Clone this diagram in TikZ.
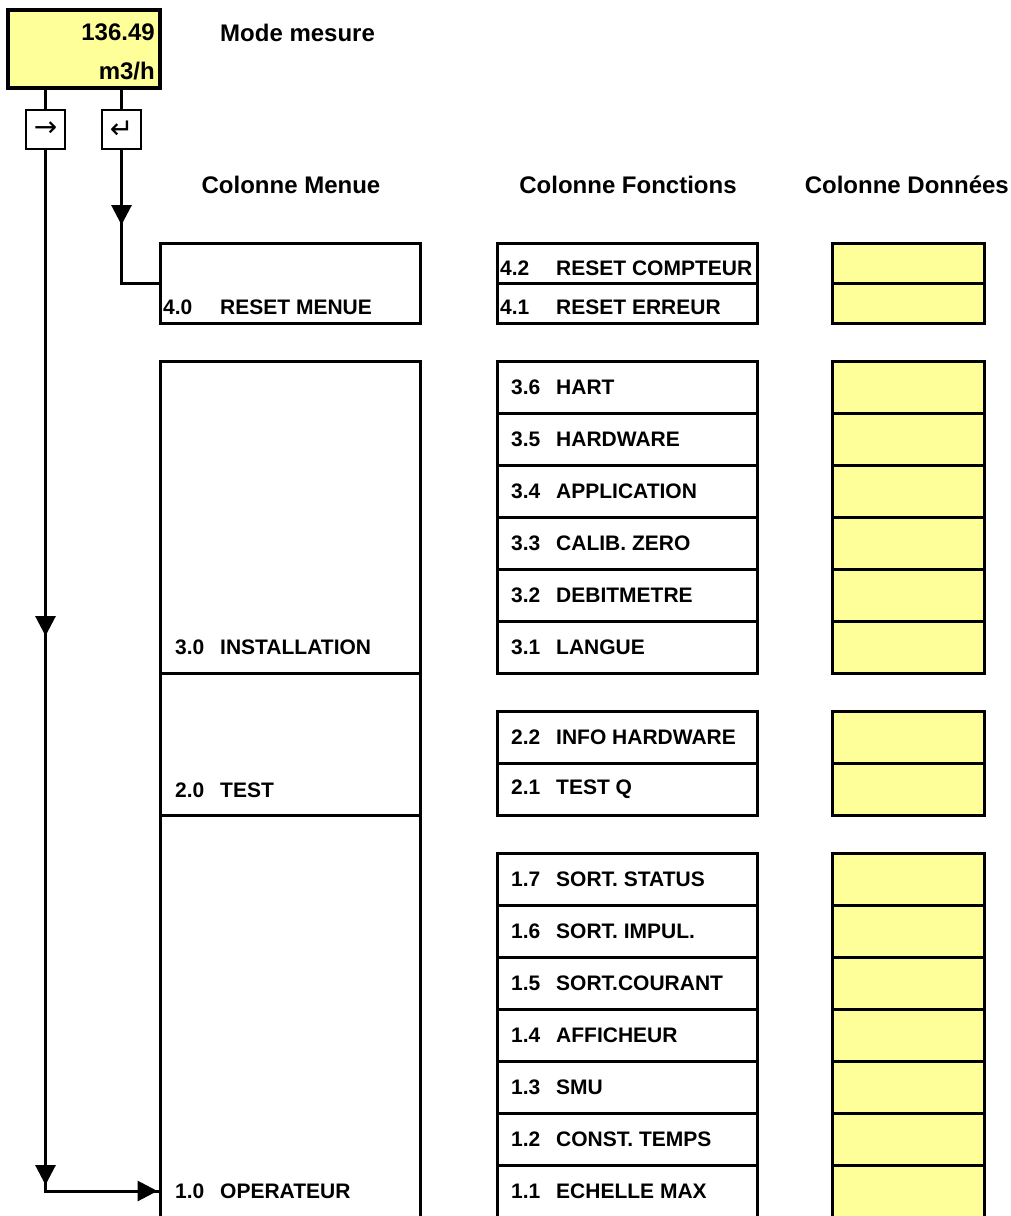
\documentclass[tikz,border=0pt]{standalone}
\usepackage{fontspec}
\setmainfont{Liberation Sans}
\newfontfamily\dejavu{DejaVu Sans}
\usetikzlibrary{arrows.meta,decorations.markings}
\definecolor{lyellow}{HTML}{FFFF99}
\begin{document}
\begin{tikzpicture}[x=1pt,y=-1pt,
  cell/.style={draw, line width=3pt, outer sep=0pt, inner sep=0pt, anchor=north west},
  data/.style={cell, fill=lyellow, minimum width=152pt, minimum height=52pt},
  func/.style={cell, minimum width=260pt, minimum height=52pt},
  lbl/.style={anchor=west, inner sep=0pt, font=\bfseries\fontsize{21}{25}\selectfont},
  head/.style={inner sep=0pt, font=\bfseries\fontsize{24}{28}\selectfont},
  keybox/.style={draw, line width=1.4pt, minimum width=39pt, minimum height=39pt, inner sep=0pt, outer sep=0pt, anchor=north west, font=\dejavu\fontsize{28}{30}\selectfont},
  conn/.style={line width=3pt},
  tri/.tip={Triangle[length=20pt,width=20pt]}
]
\useasboundingbox (0,0) rectangle (1010,1216);
\clip (0,0) rectangle (1010,1216);

% display
\node[draw, line width=3.8pt, fill=lyellow, minimum width=152pt, minimum height=78pt, anchor=north west, outer sep=0pt, inner sep=0pt] (disp) at (8,10) {};
\node[head, anchor=base east] (val) at (155,40) {136.49};
\node[head, anchor=base east] (unit) at (155,79) {m3/h};
\node[head, anchor=base west] (mode) at (220,41) {Mode mesure};

% keys
\node[keybox] (k1) at (26,110) {→};
\node[keybox] (k2) at (102,110) {↵};
\draw[conn] (disp.south -| k1.center) -- (k1.north);
\draw[conn] (disp.south -| k2.center) -- (k2.north);

% headers
\node[head, anchor=base] (h1) at (291,193) {Colonne Menue};
\node[head, anchor=base] (h2) at (628,193) {Colonne Fonctions};
\node[head, anchor=base east] (h3) at (1009,193) {Colonne Données};

% menu column
\node[cell, minimum width=260pt, minimum height=80pt] (m4) at (160,243) {};
\node[cell, minimum width=260pt, minimum height=312pt] (m3) at (160,361) {};
\node[cell, minimum width=260pt, minimum height=142pt] (m2) at (160,673) {};
\node[cell, minimum width=260pt, minimum height=404pt] (m1) at (160,815) {};
\node[lbl] (l4) at (163,307) {\makebox[57pt][l]{4.0}RESET MENUE};
\node[lbl] (l3) at (175,647) {\makebox[45pt][l]{3.0}INSTALLATION};
\node[lbl] (l2) at (175,790) {\makebox[45pt][l]{2.0}TEST};
\node[lbl] (l1) at (175,1191) {\makebox[45pt][l]{1.0}OPERATEUR};

% function column + data column
\node[func, minimum height=40pt] (f42) at (497,243) {};
\node[func, minimum height=40pt] (f41) at (497,283) {};
\node[lbl] at (500,268) {\makebox[56pt][l]{4.2}RESET COMPTEUR};
\node[lbl] at (500,307) {\makebox[56pt][l]{4.1}RESET ERREUR};
\node[data, minimum height=40pt] (d42) at (832,243) {};
\node[data, minimum height=40pt] (d41) at (832,283) {};

\foreach \n/\t/\y in {3.6/HART/361, 3.5/HARDWARE/413, 3.4/APPLICATION/465, 3.3/CALIB. ZERO/517, 3.2/DEBITMETRE/569, 3.1/LANGUE/621,
  2.2/INFO HARDWARE/711, 2.1/TEST Q/763,
  1.7/SORT. STATUS/853, 1.6/SORT. IMPUL./905, 1.5/SORT.COURANT/957, 1.4/AFFICHEUR/1009, 1.3/SMU/1061, 1.2/CONST. TEMPS/1113, 1.1/ECHELLE MAX/1165}{
  \node[func] (f\n) at (497,\y) {};
  \node[lbl] at (511,\y+26) {\makebox[45pt][l]{\n}\t};
  \node[data] (d\n) at (832,\y) {};
}

% connectors
\draw[conn, postaction={decorate}, decoration={markings, mark=at position 76pt with {\arrow{tri}}}]
  (k2.south) |- (m4.west);
\draw[conn, postaction={decorate}, decoration={markings,
   mark=at position 487pt with {\arrow{tri}},
   mark=at position 1036pt with {\arrow{tri}},
   mark=at position 1154pt with {\arrow{tri}}}]
  (k1.south) |- (m1.west |- l1.west);
\end{tikzpicture}
\end{document}
